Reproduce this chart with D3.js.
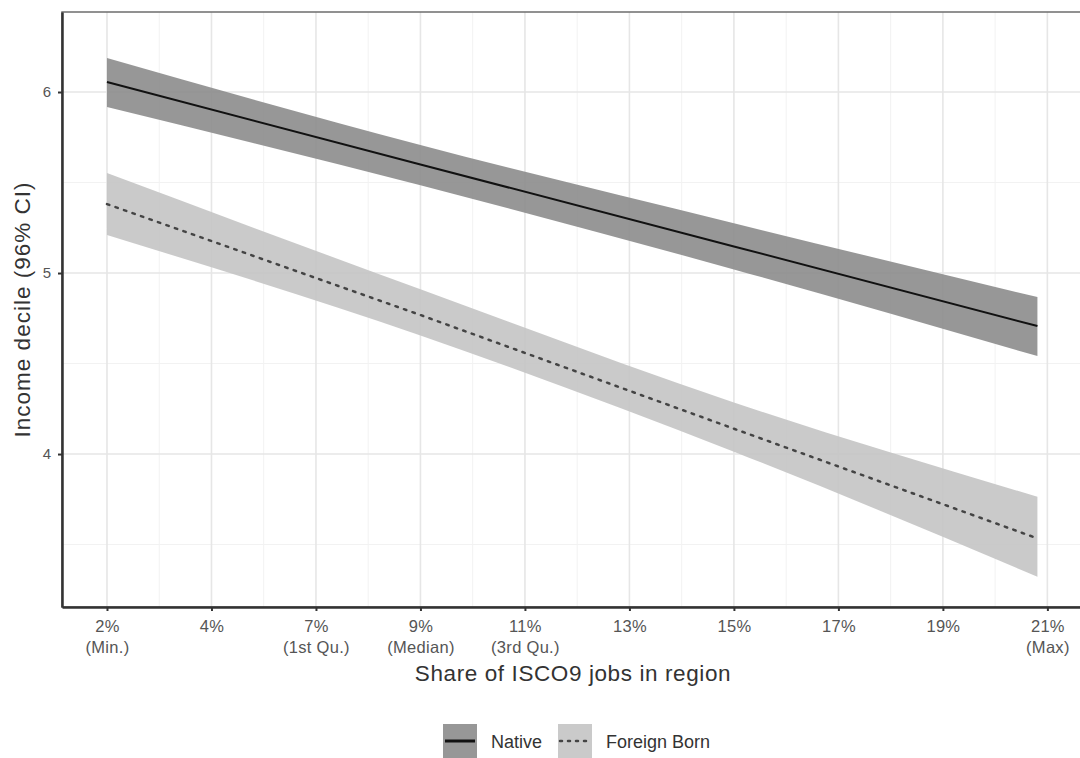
<!DOCTYPE html>
<html>
<head>
<meta charset="utf-8">
<script src="https://cdn.jsdelivr.net/npm/d3@7"></script>
<style>
    body { margin: 0; background: #fff; }
    text { font-family: "Liberation Sans", Arial, sans-serif; }
</style>
</head>
<body>
<div id="root"></div>
<script>
// share of ISCO9 jobs (x) at which the fitted values are read
const xSamples = [2.3, 8.6, 14.9, 21.0]

const nativeFit   = [6.055, 5.600, 5.147, 4.707]
const nativeLower = [5.917, 5.485, 5.020, 4.541]
const nativeUpper = [6.188, 5.707, 5.275, 4.867]

const foreignFit   = [5.381, 4.768, 4.140, 3.534]
const foreignLower = [5.210, 4.655, 4.013, 3.322]
const foreignUpper = [5.552, 4.910, 4.285, 3.764]

const xTicks = [2.3, 4.4, 6.5, 8.6, 10.7, 12.8, 14.9, 17.0, 19.1, 21.2]
const xTickLabels = [
    ["2%", "(Min.)"], ["4%"], ["7%", "(1st Qu.)"], ["9%", "(Median)"], ["11%", "(3rd Qu.)"],
    ["13%"], ["15%"], ["17%"], ["19%"], ["21%", "(Max)"]
]
const yTicks = [4, 5, 6]
const yMinor = [3.5, 4.5, 5.5]

const seriesNames = ["Native", "Foreign Born"]

const W = 1080, H = 758
const panel = {left: 62, top: 12, right: 1084, bottom: 607}

const x = d3.scaleLinear().domain([1.396, 21.936]).range([panel.left, panel.right])
const y = d3.scaleLinear().domain([3.155, 6.442]).range([panel.bottom, panel.top])

const svg = d3.select("#root").append("svg")
    .attr("width", W).attr("height", H)

// grid
const xMinor = d3.range(xTicks.length - 1).map(i => (xTicks[i] + xTicks[i + 1]) / 2)
const grid = svg.append("g")
grid.selectAll(".xminor").data(xMinor).join("line")
    .attr("x1", d => x(d)).attr("x2", d => x(d))
    .attr("y1", panel.top).attr("y2", panel.bottom)
    .attr("stroke", "#f2f2f2").attr("stroke-width", 1)
grid.selectAll(".yminor").data(yMinor).join("line")
    .attr("x1", panel.left).attr("x2", panel.right)
    .attr("y1", d => y(d)).attr("y2", d => y(d))
    .attr("stroke", "#f2f2f2").attr("stroke-width", 1)
grid.selectAll(".xmajor").data(xTicks).join("line")
    .attr("x1", d => x(d)).attr("x2", d => x(d))
    .attr("y1", panel.top).attr("y2", panel.bottom)
    .attr("stroke", "#e6e6e6").attr("stroke-width", 1.6)
grid.selectAll(".ymajor").data(yTicks).join("line")
    .attr("x1", panel.left).attr("x2", panel.right)
    .attr("y1", d => y(d)).attr("y2", d => y(d))
    .attr("stroke", "#e6e6e6").attr("stroke-width", 1.6)

// ribbons and lines
const series = [
    {name: seriesNames[0], fit: nativeFit, lo: nativeLower, hi: nativeUpper,
     fill: "#8c8c8c", stroke: "#111", dash: null, width: 2},
    {name: seriesNames[1], fit: foreignFit, lo: foreignLower, hi: foreignUpper,
     fill: "#c4c4c4", stroke: "#444", dash: "2.5 6.5", width: 2.5}
]

const area = d3.area()
    .curve(d3.curveMonotoneX)
    .x((d, i) => x(xSamples[i]))
    .y0(d => y(d[0]))
    .y1(d => y(d[1]))
const line = d3.line()
    .x((d, i) => x(xSamples[i]))
    .y(d => y(d))

series.forEach(s => {
    svg.append("path")
        .datum(s.lo.map((v, i) => [v, s.hi[i]]))
        .attr("d", area)
        .attr("fill", s.fill).attr("fill-opacity", 0.9)
})
series.forEach(s => {
    svg.append("path")
        .datum(s.fit)
        .attr("d", line)
        .attr("fill", "none")
        .attr("stroke", s.stroke)
        .attr("stroke-width", s.width)
        .attr("stroke-dasharray", s.dash)
        .attr("stroke-linecap", s.dash ? "round" : "butt")
})

// panel border + axis lines
svg.append("rect")
    .attr("x", panel.left).attr("y", panel.top)
    .attr("width", panel.right - panel.left).attr("height", panel.bottom - panel.top)
    .attr("fill", "none").attr("stroke", "#6e6e6e").attr("stroke-width", 1.5)

const xAxis = d3.axisBottom(x).tickValues(xTicks).tickSizeInner(4).tickSizeOuter(0).tickFormat("")
const gx = svg.append("g").attr("transform", `translate(0,${panel.bottom})`).call(xAxis)
gx.select(".domain").attr("stroke", "#333").attr("stroke-width", 2.5)
gx.selectAll(".tick line").attr("stroke", "#333").attr("stroke-width", 2)

gx.selectAll(".tick").each(function (d, i) {
    const t = d3.select(this).append("text")
        .attr("fill", "#555").attr("font-size", 16.5).attr("text-anchor", "middle")
        .attr("letter-spacing", 0.3)
    xTickLabels[i].forEach((s, j) => {
        t.append("tspan").attr("x", 0).attr("y", 25 + j * 21).text(s)
    })
})

const yAxis = d3.axisLeft(y).tickValues(yTicks).tickSizeInner(4).tickSizeOuter(0)
    .tickPadding(7).tickFormat(d3.format("d"))
const gy = svg.append("g").attr("transform", `translate(${panel.left},0)`).call(yAxis)
gy.select(".domain").attr("stroke", "#333").attr("stroke-width", 2.5)
gy.selectAll(".tick line").attr("stroke", "#333").attr("stroke-width", 2)
gy.selectAll(".tick text").attr("fill", "#555").attr("font-size", 15)
    .attr("font-family", "Liberation Sans, Arial, sans-serif")

// titles
svg.append("text")
    .attr("x", (panel.left + panel.right) / 2).attr("y", 681)
    .attr("text-anchor", "middle").attr("font-size", 22.5).attr("fill", "#333")
    .attr("letter-spacing", 0.6)
    .text("Share of ISCO9 jobs in region")
svg.append("text")
    .attr("transform", `translate(30,${(panel.top + panel.bottom) / 2}) rotate(-90)`)
    .attr("text-anchor", "middle").attr("font-size", 22.5).attr("fill", "#333")
    .attr("letter-spacing", 1)
    .text("Income decile (96% CI)")

// legend
const legend = svg.append("g").attr("transform", "translate(443,724)")
const keyX = [0, 115]
series.forEach((s, i) => {
    const g = legend.append("g").attr("transform", `translate(${keyX[i]},0)`)
    g.append("rect").attr("width", 34).attr("height", 34)
        .attr("fill", s.fill).attr("fill-opacity", 0.9)
    g.append("line").attr("x1", 2).attr("x2", 32).attr("y1", 17).attr("y2", 17)
        .attr("stroke", s.stroke).attr("stroke-width", s.dash ? 2.5 : 3)
        .attr("stroke-dasharray", s.dash ? "2 6" : null)
        .attr("stroke-linecap", s.dash ? "round" : "butt")
    g.append("text").attr("x", 48).attr("y", 24)
        .attr("font-size", 18).attr("fill", "#333")
        .text(s.name)
})
</script>
</body>
</html>
